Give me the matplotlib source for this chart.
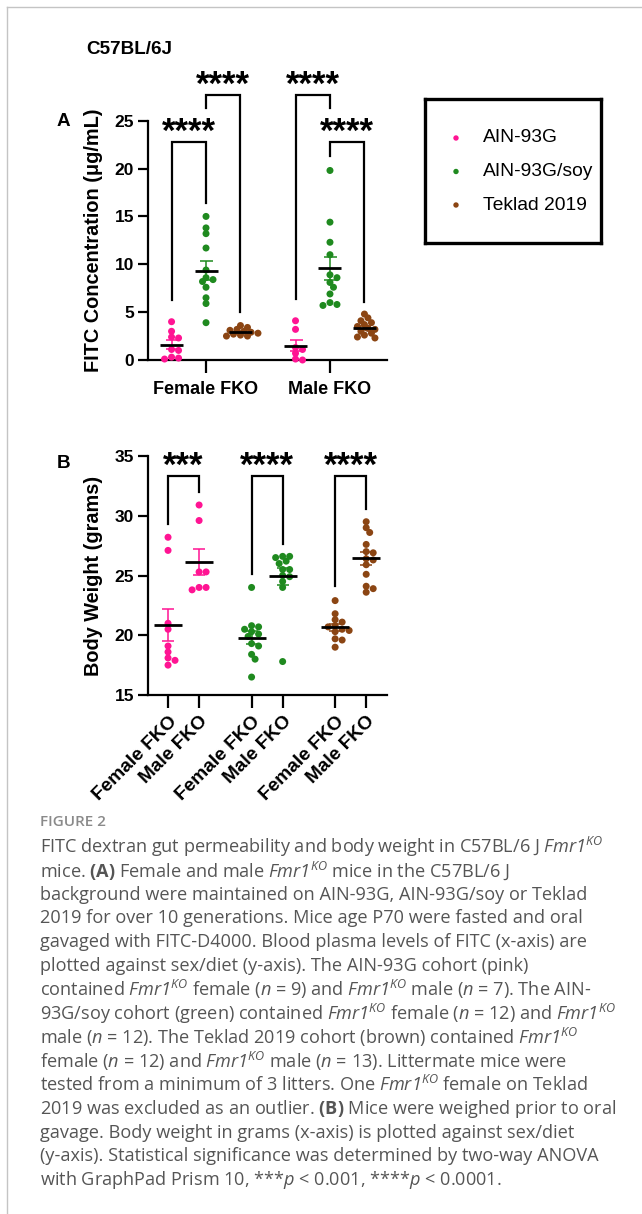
import numpy as np
import matplotlib
matplotlib.use('Agg')
import matplotlib.pyplot as plt
from matplotlib.lines import Line2D

plt.rcParams['font.family'] = ['Liberation Sans', 'DejaVu Sans']
plt.rcParams['mathtext.fontset'] = 'custom'
plt.rcParams['mathtext.rm'] = 'Open Sans'
plt.rcParams['mathtext.it'] = 'Open Sans:italic'
plt.rcParams['mathtext.sf'] = 'Open Sans:italic'
plt.rcParams['mathtext.bf'] = 'Open Sans:bold'

# ---------------- data ----------------
diets = ['AIN-93G', 'AIN-93G/soy', 'Teklad 2019']
diet_colors = ['#ff1493', '#1f8a1f', '#8b4513']
sexes = ['Female FKO', 'Male FKO']

# Panel A: FITC concentration (ug/mL)
fitc_female_ain = [4.0, 3.0, 2.4, 2.3, 1.1, 1.0, 0.2, 0.3, 0.1]
fitc_female_soy = [15.0, 13.8, 13.2, 11.7, 9.4, 8.4, 8.6, 8.2, 7.6, 6.5, 5.9, 3.9]
fitc_female_tek = [3.6, 3.4, 3.2, 3.1, 3.0, 2.9, 2.8, 2.7, 2.6, 2.5, 2.5]
fitc_male_ain = [4.1, 3.2, 1.3, 0.7, 1.1, 0.0, 0.1]
fitc_male_soy = [19.8, 14.4, 12.3, 11.0, 8.9, 8.6, 8.1, 7.6, 6.9, 5.7, 6.0, 5.8]
fitc_male_tek = [4.8, 4.4, 4.1, 3.9, 3.7, 3.5, 3.3, 3.2, 3.0, 2.8, 2.6, 2.4, 2.3]

# Panel B: body weight (grams)
bw_ain_female = [28.2, 27.1, 21.0, 20.5, 19.1, 18.6, 18.1, 17.9, 17.5]
bw_ain_male = [30.9, 29.6, 25.3, 25.3, 23.8, 24.0, 24.0]
bw_soy_female = [24.0, 20.8, 20.7, 20.5, 20.3, 20.1, 19.9, 19.3, 19.1, 18.4, 18.0, 16.5]
bw_soy_male = [26.6, 26.6, 26.5, 26.2, 26.0, 25.5, 25.5, 25.0, 24.9, 24.5, 24.0, 17.8]
bw_tek_female = [22.9, 21.8, 21.3, 21.1, 20.7, 20.8, 20.5, 20.4, 20.3, 19.6, 19.7, 19.0]
bw_tek_male = [29.5, 29.0, 28.6, 27.6, 27.0, 26.9, 26.4, 26.3, 25.9, 25.1, 24.1, 23.9, 23.6]

fitc_by_sex = [[fitc_female_ain, fitc_female_soy, fitc_female_tek],
               [fitc_male_ain, fitc_male_soy, fitc_male_tek]]
bw_by_diet = [[bw_ain_female, bw_ain_male],
              [bw_soy_female, bw_soy_male],
              [bw_tek_female, bw_tek_male]]

# significance brackets: (first group, second group, bar level, left leg end, right leg end, label)
brackets_a = [((0, 0), (0, 1), 22.8, 6.3, 16.4, '****'),
              ((0, 1), (0, 2), 27.7, 26.3, 5.0, '****'),
              ((1, 0), (1, 1), 27.7, 6.4, 26.3, '****'),
              ((1, 1), (1, 2), 22.8, 21.3, 6.1, '****')]
brackets_b = [(0, 33.3, 29.3, 32.0, '***'),
              (1, 33.3, 25.1, 27.6, '****'),
              (2, 33.3, 24.1, 30.6, '****')]

caption_title = 'FIGURE 2'
FM = r'$\mathsf{Fmr1}^{\mathsf{KO}}$'
NN = r'$\mathit{n}$'
PP = r'$\mathit{p}$'
caption_lines = [
    'FITC dextran gut permeability and body weight in C57BL/6 J ' + FM,
    r'mice. $\mathbf{(A)}$ Female and male ' + FM + ' mice in the C57BL/6 J',
    'background were maintained on AIN-93G, AIN-93G/soy or Teklad',
    '2019 for over 10 generations. Mice age P70 were fasted and oral',
    'gavaged with FITC-D4000. Blood plasma levels of FITC (x-axis) are',
    'plotted against sex/diet (y-axis). The AIN-93G cohort (pink)',
    'contained ' + FM + ' female (' + NN + ' = 9) and ' + FM + ' male (' + NN + ' = 7). The AIN-',
    '93G/soy cohort (green) contained ' + FM + ' female (' + NN + ' = 12) and ' + FM,
    'male (' + NN + ' = 12). The Teklad 2019 cohort (brown) contained ' + FM,
    'female (' + NN + ' = 12) and ' + FM + ' male (' + NN + ' = 13). Littermate mice were',
    'tested from a minimum of 3 litters. One ' + FM + ' female on Teklad',
    r'2019 was excluded as an outlier. $\mathbf{(B)}$ Mice were weighed prior to oral',
    'gavage. Body weight in grams (x-axis) is plotted against sex/diet',
    '(y-axis). Statistical significance was determined by two-way ANOVA',
    'with GraphPad Prism 10, ***' + PP + ' < 0.001, ****' + PP + ' < 0.0001.',
]

# ---------------- figure ----------------
W, H = 642, 1214
fig = plt.figure(figsize=(W / 100, H / 100), dpi=100)
fig.patch.set_facecolor('white')


def fx(px):
    return px / W


def fy(py):
    return 1 - py / H


# page frame
fig.add_artist(Line2D([fx(7), fx(7)], [0, fy(7)], transform=fig.transFigure, color='#c4c4c4', lw=1))
fig.add_artist(Line2D([fx(7), 1], [fy(7), fy(7)], transform=fig.transFigure, color='#c4c4c4', lw=1))

DOT_D = 7.0  # dot diameter in px
DOT_S = (DOT_D * 0.72) ** 2


def swarm_x(ax, x0, vals):
    pts = ax.transData.transform(np.column_stack([np.full(len(vals), x0), vals]))
    ys = pts[:, 1]
    order = np.argsort(-ys)
    placed = []
    off = np.zeros(len(vals))
    for i in order:
        y = ys[i]
        chosen = None
        for k in range(0, 60):
            for sgn in ([0] if k == 0 else [1, -1]):
                cand = sgn * k * DOT_D * 0.5
                if all((cand - px) ** 2 + (y - py) ** 2 >= (DOT_D * 0.72) ** 2 for px, py in placed):
                    chosen = cand
                    break
            if chosen is not None:
                break
        placed.append((chosen, y))
        off[i] = chosen
    data = ax.transData.inverted().transform(np.column_stack([pts[:, 0] + off, ys]))
    return data[:, 0]


def px_to_dx(ax, px):
    inv = ax.transData.inverted()
    p0 = ax.transData.transform((0, 0))
    return inv.transform((p0[0] + px, p0[1]))[0] - inv.transform(p0)[0]


def draw_group(ax, x0, vals, color, mean_hw_px, cap_hw_px):
    vals = np.asarray(vals, float)
    xs = swarm_x(ax, x0, vals)
    ax.scatter(xs, vals, s=DOT_S, color=color, edgecolors='none', zorder=3, clip_on=False)
    m = vals.mean()
    sem = vals.std(ddof=1) / np.sqrt(len(vals))
    ax.errorbar([x0], [m], yerr=[sem], color=color, lw=1.1, capsize=cap_hw_px * 0.72,
                capthick=1.1, zorder=4, fmt='none')
    hw = px_to_dx(ax, mean_hw_px)
    ax.plot([x0 - hw, x0 + hw], [m, m], color='black', lw=2.0, zorder=5, solid_capstyle='butt')


def style_axes(ax, xsize):
    for s in ['top', 'right']:
        ax.spines[s].set_visible(False)
    for s in ['left', 'bottom']:
        ax.spines[s].set_linewidth(1.6)
    ax.tick_params(axis='both', width=1.6, length=7)
    ax.tick_params(axis='y', labelsize=12.5)
    ax.tick_params(axis='x', labelsize=xsize)
    for lab in ax.get_yticklabels() + ax.get_xticklabels():
        lab.set_fontweight('bold')


def bracket(ax, x1, x2, ybar, y1, y2, label):
    ax.plot([x1, x1, x2, x2], [y1, ybar, ybar, y2], color='black', lw=1.6,
            clip_on=False, solid_joinstyle='miter')
    ax.text((x1 + x2) / 2, ybar, label, ha='center', va='baseline', fontsize=25,
            fontweight='bold', clip_on=False)


# ---------------- Panel A ----------------
axA = fig.add_axes([fx(148), fy(360), fx(387) - fx(148), fy(120.7) - fy(360)])
axA.set_xlim(-0.468, 1.46)
axA.set_ylim(0, 25)
axA.set_yticks([0, 5, 10, 15, 20, 25])
axA.set_xticks([0, 1])
axA.set_xticklabels(sexes)
style_axes(axA, 13)
axA.tick_params(axis='x', length=9, pad=6)
axA.tick_params(axis='y', pad=3)
axA.set_ylabel('FITC Concentration (\u03bcg/mL)', fontsize=14.3, fontweight='bold')
axA.yaxis.set_label_coords(-0.19, 0.5)

offA = 0.278
posA = {}
for si, groups in enumerate(fitc_by_sex):
    for di, vals in enumerate(groups):
        x0 = si + (di - 1) * offA
        posA[(si, di)] = x0
        draw_group(axA, x0, vals, diet_colors[di], 11.5, 6.5)

for g1, g2, ybar, y1, y2, lab in brackets_a:
    bracket(axA, posA[g1], posA[g2], ybar, y1, y2, lab)

# ---------------- Panel B ----------------
axB = fig.add_axes([fx(148), fy(695), fx(387) - fx(148), fy(456) - fy(695)])
axB.set_xlim(-0.645, 7.05)
axB.set_ylim(15, 35)
axB.set_yticks([15, 20, 25, 30, 35])
gap = 2.69
posB = {}
ticks = []
for di, groups in enumerate(bw_by_diet):
    for si, vals in enumerate(groups):
        x0 = di * gap + si
        posB[(di, si)] = x0
        ticks.append(x0)
axB.set_xticks(ticks)
axB.set_xticklabels(sexes * 3, rotation=45, ha='right', rotation_mode='anchor')
style_axes(axB, 13.8)
axB.tick_params(axis='x', length=9, pad=4)
axB.tick_params(axis='y', pad=3)
axB.set_ylabel('Body Weight (grams)', fontsize=14.3, fontweight='bold')
axB.yaxis.set_label_coords(-0.19, 0.5)

for di, groups in enumerate(bw_by_diet):
    for si, vals in enumerate(groups):
        draw_group(axB, posB[(di, si)], vals, diet_colors[di], 14, 6)

for di, ybar, y1, y2, lab in brackets_b:
    bracket(axB, posB[(di, 0)], posB[(di, 1)], ybar, y1, y2, lab)

# ---------------- titles / panel letters ----------------
fig.text(fx(86), fy(49), 'C57BL/6J', fontsize=13.6, fontweight='bold', va='center', ha='left')
fig.text(fx(57), fy(121), 'A', fontsize=13.6, fontweight='bold', va='center', ha='left')
fig.text(fx(57), fy(463), 'B', fontsize=13.6, fontweight='bold', va='center', ha='left')

# ---------------- legend box ----------------
axL = fig.add_axes([fx(425), fy(243), fx(601) - fx(425), fy(99) - fy(243)])
axL.set_xlim(0, 176)
axL.set_ylim(144, 0)
axL.set_xticks([])
axL.set_yticks([])
for s in axL.spines.values():
    s.set_linewidth(2.4)
for i, (name, col) in enumerate(zip(diets, diet_colors)):
    yy = 39 + i * 33.5
    axL.scatter([31], [yy], s=(5.4 * 0.72) ** 2, color=col, edgecolors='none')
    axL.text(58, yy, name, fontsize=13.9, va='center', ha='left')

# ---------------- caption ----------------
renderer = fig.canvas.get_renderer()
X0 = 40
line_w_target = 603 - X0
probe = fig.text(0, 0, caption_lines[0], fontsize=10, family='Open Sans')
w10 = probe.get_window_extent(renderer).width
probe.remove()
cap_fs = 10 * line_w_target / w10

fig.text(fx(X0), fy(822), caption_title, fontsize=cap_fs * 0.84, color='#8a8a8a', family='Open Sans',
         fontweight='semibold', va='center', ha='left')
for i, line in enumerate(caption_lines):
    fig.text(fx(X0), fy(847 + i * 23.8), line, fontsize=cap_fs, color='#555555', family='Open Sans',
             va='center', ha='left')

fig.savefig('out.png', dpi=100)
